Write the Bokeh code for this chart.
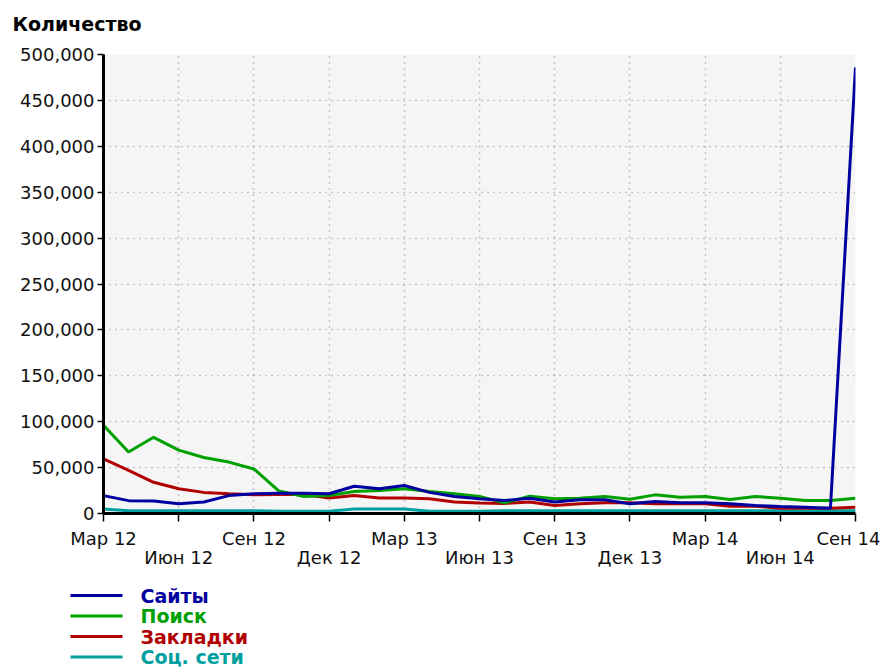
from bokeh.plotting import figure
from bokeh.models import FixedTicker, NumeralTickFormatter, LinearAxis, Range1d
from bokeh.layouts import column
from bokeh.core.properties import value
from bokeh.embed import file_html
from bokeh.resources import INLINE

months = ["Мар 12", "Апр 12", "Май 12", "Июн 12", "Июл 12", "Авг 12", "Сен 12", "Окт 12",
          "Ноя 12", "Дек 12", "Янв 13", "Фев 13", "Мар 13", "Апр 13", "Май 13", "Июн 13",
          "Июл 13", "Авг 13", "Сен 13", "Окт 13", "Ноя 13", "Дек 13", "Янв 14", "Фев 14",
          "Мар 14", "Апр 14", "Май 14", "Июн 14", "Июл 14", "Авг 14", "Сен 14"]

sites = [19500, 14000, 13500, 10500, 12500, 19500, 21500, 22000, 22000, 21500, 29700, 27000,
         30500, 23000, 18500, 16000, 14200, 16700, 12500, 15000, 15000, 10500, 13000, 11600,
         11600, 10500, 8700, 7600, 6900, 5800, 486000]
search = [96000, 67000, 83000, 69000, 61000, 56000, 48500, 24500, 18500, 19500, 24000, 25000,
          27000, 24000, 21500, 18500, 11600, 18800, 16000, 16700, 18500, 15500, 20300, 17700,
          18500, 15200, 18500, 16700, 14200, 14200, 16700]
bookmarks = [59500, 47000, 34000, 27000, 23000, 21500, 20500, 20700, 20700, 17000, 19500, 17000,
             17000, 16000, 12500, 11500, 11000, 12500, 8700, 10500, 11600, 11600, 10500, 10500,
             10500, 8000, 8000, 5800, 5800, 5800, 6900]
social = [5000, 3000, 3000, 3000, 3000, 3000, 3000, 2500, 2500, 2500, 5000, 5000,
          5000, 2500, 2500, 2500, 3000, 3000, 3000, 3000, 3000, 3000, 3000, 3000,
          3000, 3000, 3000, 3000, 3000, 3000, 3000]

series_names = ["Сайты", "Поиск", "Закладки", "Соц. сети"]
series_colors = ["#0000a0", "#00a000", "#b00000", "#00a0a0"]
series_values = [sites, search, bookmarks, social]
y_title = "Количество"

y_ticks = list(range(0, 500001, 50000))
x_idx = list(range(len(months)))
x_ticks = x_idx[::3]

FONT = "DejaVu Sans"
W = 880


def blank_panel(h):
    f = figure(width=W, height=h, output_backend="svg", toolbar_location=None,
               x_range=Range1d(0, W), y_range=Range1d(h, 0),
               x_axis_location=None, y_axis_location=None,
               min_border=0, outline_line_color=None)
    f.frame_align = False
    f.grid.visible = False
    f.background_fill_color = "white"
    f.border_fill_color = "white"
    return f


# heading panel
TH = 40
t = blank_panel(TH)
t.text(x=[12], y=[23], text=[y_title], text_color="black",
       text_font=value(FONT), text_font_style="bold", text_font_size="19px",
       text_baseline="middle", text_align="left")

# main chart
p = figure(width=W, height=540, output_backend="svg", toolbar_location=None,
           x_range=Range1d(0, len(months) - 1), y_range=Range1d(0, 500000),
           min_border_left=103, min_border_right=25, min_border_top=14, min_border_bottom=67)
p.outline_line_color = None
p.border_fill_color = "white"
p.background_fill_color = "#f5f5f5"

# y axis
p.yaxis.ticker = FixedTicker(ticks=y_ticks)
p.yaxis.formatter = NumeralTickFormatter(format="0,0")
p.yaxis.axis_line_width = 3
p.yaxis.axis_line_color = "black"
p.yaxis.major_tick_line_color = "black"
p.yaxis.major_tick_line_width = 1.5
p.yaxis.major_tick_out = 6
p.yaxis.major_tick_in = 0
p.yaxis.minor_tick_line_color = None
p.yaxis.major_label_standoff = 3
p.yaxis.major_label_text_font = FONT
p.yaxis.major_label_text_font_size = "18px"
p.yaxis.major_label_text_color = "#111111"

# x axis (row 1)
xt = FixedTicker(ticks=x_ticks)
xa = p.xaxis[0]
xa.ticker = xt
xa.major_label_overrides = {i: (months[i] if (k % 2 == 0) else "") for k, i in enumerate(x_ticks)}
xa.axis_line_width = 3
xa.axis_line_color = "black"
xa.major_tick_line_color = "black"
xa.major_tick_line_width = 1.5
xa.major_tick_out = 8
xa.major_tick_in = 0
xa.minor_tick_line_color = None
xa.major_label_standoff = 6
xa.major_label_text_font = FONT
xa.major_label_text_font_size = "18px"
xa.major_label_text_color = "#111111"

# x axis (row 2, staggered labels)
xa2 = LinearAxis(ticker=FixedTicker(ticks=x_ticks))
xa2.major_label_overrides = {i: ("" if (k % 2 == 0) else months[i]) for k, i in enumerate(x_ticks)}
xa2.axis_line_color = None
xa2.major_tick_line_color = None
xa2.minor_tick_line_color = None
xa2.major_tick_out = 0
xa2.major_tick_in = 0
xa2.major_label_standoff = -5
xa2.major_label_text_font = FONT
xa2.major_label_text_font_size = "18px"
xa2.major_label_text_color = "#111111"
p.add_layout(xa2, "below")

# grids
for g in (p.xgrid[0], p.ygrid[0]):
    g.grid_line_color = "#999999"
    g.grid_line_dash = "1 5"
    g.grid_line_width = 1.5
p.xgrid[0].ticker = xt

# draw social first so sites are on top
for vals, col in reversed(list(zip(series_values, series_colors))):
    p.line(x_idx, vals, line_color=col, line_width=3)

# legend panel below the chart
LH = 88
legend_rows = [15, 35.5, 56, 76.5]
q = blank_panel(LH)
q.segment(x0=[70] * 4, x1=[122] * 4, y0=legend_rows, y1=legend_rows,
          line_color=series_colors, line_width=3)
q.text(x=[140] * 4, y=legend_rows, text=series_names, text_color=series_colors,
       text_font=value(FONT), text_font_style="bold", text_font_size="19px",
       text_baseline="middle", text_align="left")

layout = column(t, p, q, spacing=0)
open("out.html", "w").write(file_html(layout, INLINE))
